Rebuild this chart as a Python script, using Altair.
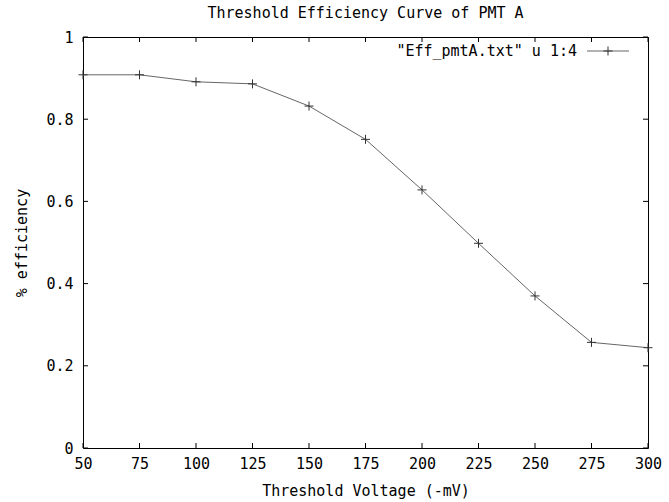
import altair as alt
import pandas as pd

# ---- data ----
voltage = [50, 75, 100, 125, 150, 175, 200, 225, 250, 275, 300]
efficiency = [0.908, 0.908, 0.891, 0.886, 0.832, 0.751, 0.628, 0.498, 0.370, 0.257, 0.244]
x_ticks = [50, 75, 100, 125, 150, 175, 200, 225, 250, 275, 300]
y_ticks = [0, 0.2, 0.4, 0.6, 0.8, 1]

title_text = "Threshold Efficiency Curve of PMT A"
x_title = "Threshold Voltage (-mV)"
y_title = "% efficiency"
legend_label = '"Eff_pmtA.txt" u 1:4'

W, H = 565, 411
FONT = "DejaVu Sans Mono"
FS = 15
PLUS = "M-1,0L1,0M0,-1L0,1"

df = pd.DataFrame({"v": voltage, "e": efficiency})
xt = pd.DataFrame({"t": x_ticks})
yt = pd.DataFrame({"t": y_ticks})
one = pd.DataFrame({"a": [0]})

xs = alt.Scale(domain=[50, 300], nice=False)
ys = alt.Scale(domain=[0, 1], nice=False)

x_axis = alt.Axis(
    values=x_ticks, title=x_title, grid=False, domain=False, ticks=False,
    labelPadding=8, labelFlush=False, labelFont=FONT, labelFontSize=FS,
    labelColor="black", titleFont=FONT, titleFontSize=FS, titleFontWeight="normal",
    titleColor="black", titleX=W / 2, titleY=42, titleBaseline="middle",
    titleAlign="center",
)
y_axis = alt.Axis(
    values=y_ticks, title=y_title, format="~g", grid=False, domain=False, ticks=False,
    labelPadding=10, labelFlush=False, labelFont=FONT, labelFontSize=FS,
    labelColor="black", titleFont=FONT, titleFontSize=FS, titleFontWeight="normal",
    titleColor="black", titleX=-62, titleY=H / 2, titleAngle=270,
    titleBaseline="middle", titleAlign="center",
)

line = alt.Chart(df).mark_line(color="#666666", strokeWidth=1).encode(
    x=alt.X("v:Q", scale=xs, axis=x_axis),
    y=alt.Y("e:Q", scale=ys, axis=y_axis),
)
pts = alt.Chart(df).mark_point(
    shape=PLUS, size=81, filled=False, color="#333333", strokeWidth=1, opacity=1
).encode(x=alt.X("v:Q", scale=xs), y=alt.Y("e:Q", scale=ys))

tick_b = alt.Chart(xt).mark_rule(color="black", strokeWidth=1).encode(
    x=alt.X("t:Q", scale=xs), y=alt.value(H), y2=alt.value(H - 5))
tick_t = alt.Chart(xt).mark_rule(color="black", strokeWidth=1).encode(
    x=alt.X("t:Q", scale=xs), y=alt.value(0), y2=alt.value(5))
tick_l = alt.Chart(yt).mark_rule(color="black", strokeWidth=1).encode(
    y=alt.Y("t:Q", scale=ys), x=alt.value(0), x2=alt.value(5))
tick_r = alt.Chart(yt).mark_rule(color="black", strokeWidth=1).encode(
    y=alt.Y("t:Q", scale=ys), x=alt.value(W), x2=alt.value(W - 5))

title = alt.Chart(one).mark_text(
    font=FONT, fontSize=FS, color="black", align="center", baseline="middle"
).encode(x=alt.value(W / 2), y=alt.value(-24), text=alt.value(title_text))

leg_text = alt.Chart(one).mark_text(
    font=FONT, fontSize=FS, color="black", align="right", baseline="middle"
).encode(x=alt.value(494), y=alt.value(14), text=alt.value(legend_label))
leg_line = alt.Chart(one).mark_rule(color="#666666", strokeWidth=1).encode(
    x=alt.value(504), x2=alt.value(546), y=alt.value(14))
leg_pt = alt.Chart(one).mark_point(
    shape=PLUS, size=81, filled=False, color="#333333", strokeWidth=1, opacity=1
).encode(x=alt.value(525), y=alt.value(14))

chart = alt.layer(
    line, pts, tick_b, tick_t, tick_l, tick_r, title, leg_text, leg_line, leg_pt
).properties(
    width=W, height=H, autosize="none",
    padding={"left": 83, "top": 37, "right": 21, "bottom": 54},
    background="white",
).configure_view(stroke="black", strokeWidth=1)

chart.save("out.html", embed_options={"renderer": "svg", "actions": False})
